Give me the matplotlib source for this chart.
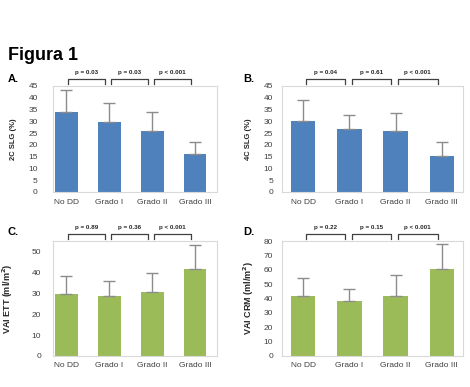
import matplotlib
matplotlib.use('Agg')
import matplotlib.pyplot as plt

plt.rcParams['font.family'] = ['Liberation Sans', 'DejaVu Sans']

groups = ['No DD', 'Grado I', 'Grado II', 'Grado III']

# panel A: 2C SLG (%)
slg2c_mean = [34.1, 29.7, 25.8, 16.1]
slg2c_sd = [9.1, 7.9, 8.3, 5.0]
slg2c_p = ['p = 0.03', 'p = 0.03', 'p < 0.001']

# panel B: 4C SLG (%)
slg4c_mean = [30.3, 26.6, 25.8, 15.4]
slg4c_sd = [8.7, 6.1, 7.6, 6.0]
slg4c_p = ['p = 0.04', 'p = 0.61', 'p < 0.001']

# panel C: VAI ETT
vai_ett_mean = [29.8, 28.6, 30.4, 41.6]
vai_ett_sd = [8.6, 7.1, 9.3, 11.7]
vai_ett_p = ['p = 0.89', 'p = 0.36', 'p < 0.001']

# panel D: VAI CRM
vai_crm_mean = [41.4, 38.2, 41.6, 60.5]
vai_crm_sd = [12.9, 8.5, 15.0, 17.2]
vai_crm_p = ['p = 0.22', 'p = 0.15', 'p < 0.001']

W, H = 470, 387
fig = plt.figure(figsize=(W / 100, H / 100), dpi=100)

# box = (left, right, top, bottom) in pixels; letter_xy in pixels
panels = [
    dict(letter='A.', letter_xy=(8, 79), box=(53, 217, 86, 192), mean=slg2c_mean, sd=slg2c_sd,
         p=slg2c_p, color='#4F81BD', ylim=45, step=5, ylabel='2C SLG (%)', lab_px=36, ypad=11,
         lab_fs=5.5, xlim=(-0.31, 3.51), xpad=5),
    dict(letter='B.', letter_xy=(243, 79), box=(282, 463, 86, 192), mean=slg4c_mean, sd=slg4c_sd,
         p=slg4c_p, color='#4F81BD', ylim=45, step=5, ylabel='4C SLG (%)', lab_px=30, ypad=6.5,
         lab_fs=5.5, xlim=(-0.46, 3.46), xpad=5),
    dict(letter='C.', letter_xy=(8, 232), box=(53, 217, 241, 356), mean=vai_ett_mean, sd=vai_ett_sd,
         p=vai_ett_p, color='#9BBB59', ylim=55, step=10, ylabel='VAI ETT (ml/m$^\\mathbf{2}$)',
         lab_px=38, ypad=8.6, lab_fs=6.5, xlim=(-0.31, 3.51), xpad=4.3),
    dict(letter='D.', letter_xy=(243, 232), box=(282, 463, 241, 356), mean=vai_crm_mean, sd=vai_crm_sd,
         p=vai_crm_p, color='#9BBB59', ylim=80, step=10, ylabel='VAI CRM (ml/m$^\\mathbf{2}$)',
         lab_px=26, ypad=6.5, lab_fs=6.5, xlim=(-0.46, 3.46), xpad=4.3),
]

for pn in panels:
    l, r, t, b = pn['box']
    ax = fig.add_axes([l / W, 1 - b / H, (r - l) / W, (b - t) / H])
    hpx = b - t
    x = range(len(groups))
    ax.bar(x, pn['mean'], width=0.53, color=pn['color'], zorder=2)
    ax.errorbar(x, pn['mean'], yerr=[[0] * 4, pn['sd']], fmt='none', ecolor='#8c8c8c',
                elinewidth=1, capsize=4, capthick=1, zorder=3)
    ax.set_xlim(*pn['xlim'])
    ax.set_ylim(0, pn['ylim'])
    ax.set_yticks(range(0, pn['ylim'] + 1, pn['step']))
    ax.set_xticks(list(x))
    ax.set_xticklabels(groups)
    ax.tick_params(axis='both', length=0, labelsize=6, colors='#404040')
    ax.tick_params(axis='y', pad=pn['ypad'])
    ax.tick_params(axis='x', pad=pn['xpad'])
    for s in ax.spines.values():
        s.set_color('#d9d9d9')
        s.set_linewidth(0.8)
    ax.set_ylabel(pn['ylabel'], fontsize=pn['lab_fs'], fontweight='bold', color='#262626')
    ax.yaxis.set_label_coords(-pn['lab_px'] / (r - l), 0.5)

    # significance brackets above the plot
    trans = ax.get_xaxis_transform()
    top = 1 + 6.7 / hpx
    low = 1 + 1.8 / hpx
    for i, txt in enumerate(pn['p']):
        x0, x1 = i + 0.05, i + 0.91
        ax.plot([x0, x0, x1, x1], [low, top, top, low], color='#404040', lw=0.9,
                transform=trans, clip_on=False)
        ax.text((x0 + x1) / 2, 1 + 13.5 / hpx, txt, transform=trans, ha='center',
                va='center', fontsize=4.5, fontweight='bold', color='#262626')

    lx, ly = pn['letter_xy']
    fig.text(lx / W, 1 - ly / H, pn['letter'], fontsize=8, fontweight='bold',
             ha='left', va='center')

fig.text(8 / W, 1 - 55 / H, 'Figura 1', fontsize=13, fontweight='bold', ha='left', va='center')

fig.savefig('out.png', dpi=100)
